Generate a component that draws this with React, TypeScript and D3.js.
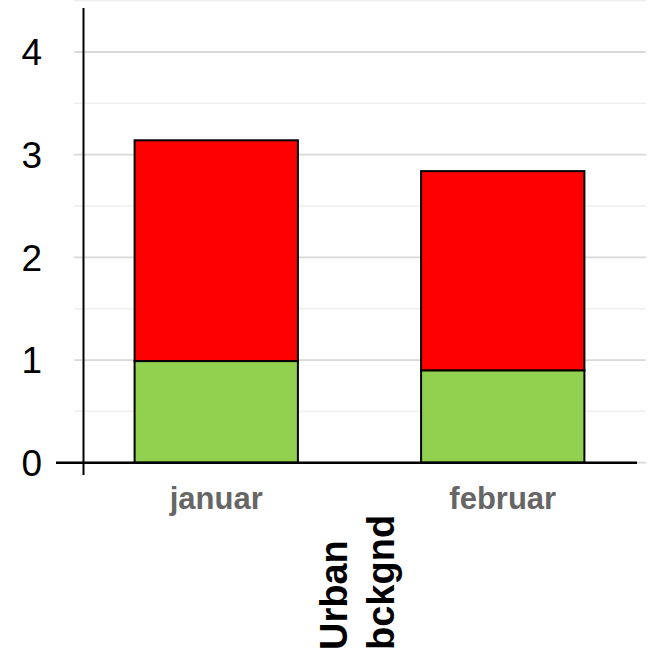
import React from "react";
import * as d3 from "d3";

const categories = ["januar", "februar"];
const greenValues = [0.99, 0.9];
const redValues = [2.15, 1.94];
const yTicks = [0, 1, 2, 3, 4];
const yMinorTicks = [0.5, 1.5, 2.5, 3.5, 4.5];
const titleLines = ["Urban", "bckgnd"];

const W = 649;
const H = 656;

export default function App() {
  const x = d3
    .scaleBand<string>()
    .domain(categories)
    .range([73, 646])
    .paddingInner(0.43)
    .paddingOuter(0.215);
  const y = d3.scaleLinear().domain([0, 4]).range([462.7, 52]);
  const stack = categories.map((c, i) => ({
    c,
    g: greenValues[i],
    r: redValues[i],
  }));
  const font = "'Liberation Sans', Arial, sans-serif";
  return (
    <svg
      width={W}
      height={H}
      style={{ position: "absolute", left: 0, top: 0 }}
      fontFamily={font}
    >
      <rect width={W} height={H} fill="#fff" />
      {yMinorTicks.map((t) => (
        <line
          key={"m" + t}
          x1={74}
          x2={646}
          y1={y(t)}
          y2={y(t)}
          stroke="#efefef"
          strokeWidth={1.5}
        />
      ))}
      {yTicks.map((t) => (
        <line
          key={"g" + t}
          x1={74}
          x2={646}
          y1={y(t)}
          y2={y(t)}
          stroke="#d9d9d9"
          strokeWidth={1.8}
        />
      ))}
      {stack.map((d) => (
        <g key={d.c}>
          <rect
            x={x(d.c)}
            y={y(d.g)}
            width={x.bandwidth()}
            height={y(0) - y(d.g)}
            fill="#92d050"
            stroke="#000"
            strokeWidth={2}
          />
          <rect
            x={x(d.c)}
            y={y(d.g + d.r)}
            width={x.bandwidth()}
            height={y(d.g) - y(d.g + d.r)}
            fill="#ff0000"
            stroke="#000"
            strokeWidth={2}
          />
        </g>
      ))}
      <line x1={83.5} x2={83.5} y1={8} y2={475} stroke="#000" strokeWidth={2} />
      <line x1={56} x2={637} y1={y(0)} y2={y(0)} stroke="#000" strokeWidth={2.5} />
      {yTicks.map((t) => (
        <text
          key={"t" + t}
          x={42}
          y={y(t)}
          dy="0.36em"
          textAnchor="end"
          fontSize={37}
          fill="#000"
        >
          {t}
        </text>
      ))}
      {categories.map((c) => (
        <text
          key={"c" + c}
          x={(x(c) as number) + x.bandwidth() / 2}
          y={509}
          textAnchor="middle"
          fontSize={31}
          fontWeight="bold"
          fill="#666"
        >
          {c}
        </text>
      ))}
      {titleLines.map((l, i) => (
        <text
          key={l}
          transform={`translate(${347 + i * 47},650) rotate(-90)`}
          fontSize={38}
          fontWeight="bold"
          fill="#000"
        >
          {l}
        </text>
      ))}
    </svg>
  );
}
